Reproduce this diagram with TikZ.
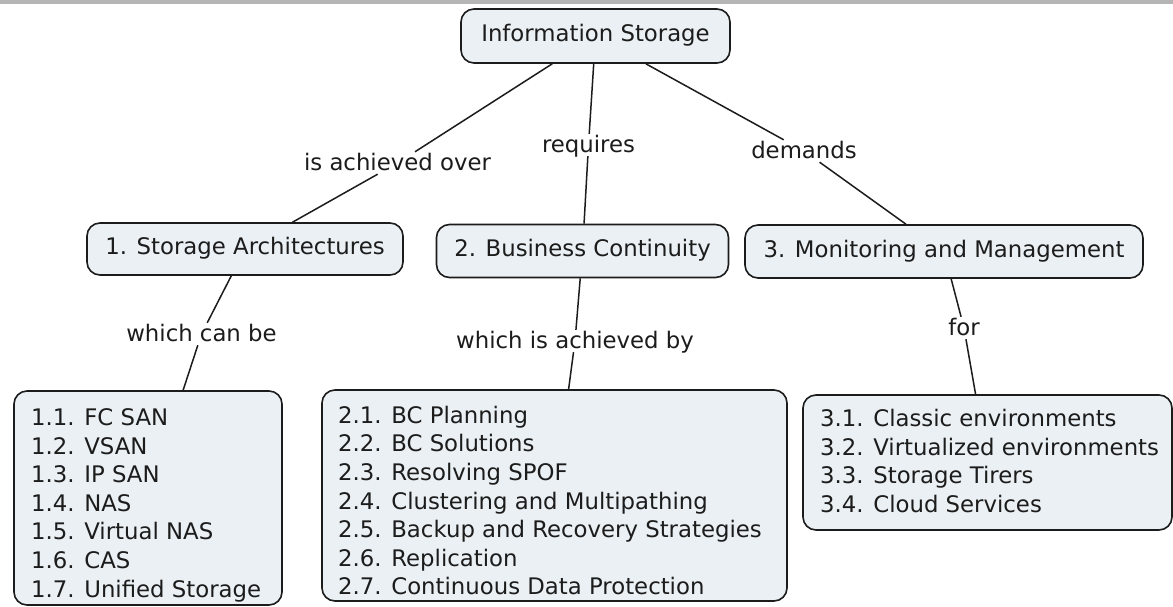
\documentclass[tikz,border=0pt]{standalone}
\usepackage{fontspec}
\setmainfont{DejaVu Sans}
\definecolor{boxfill}{HTML}{EAF0F3}
\definecolor{inkc}{HTML}{1C1C1C}
\definecolor{bandc}{HTML}{B5B5B5}
\begin{document}
\begin{tikzpicture}[x=1pt,y=-1pt,
  every node/.style={font=\fontsize{22.8pt}{28.6pt}\selectfont, text=inkc},
  topbox/.style={draw=inkc, line width=1.6pt, rounded corners=13pt, fill=boxfill, inner sep=0pt, text height=17.3pt, text depth=5.4pt},
  listbox/.style={draw=inkc, line width=1.6pt, rounded corners=13pt, fill=boxfill, inner sep=0pt},
  listtext/.style={align=left, inner sep=0pt, anchor=north west},
  linklabel/.style={inner sep=1pt, text height=17pt, text depth=3pt},
  link/.style={draw=inkc, line width=1.5pt}]

\useasboundingbox (0,0) rectangle (1173,606);
\fill[white] (0,0) rectangle (1173,606);
\fill[bandc] (0,0) rectangle (1173,3.5);

% concept boxes
\node[topbox, minimum width=269pt, minimum height=54pt] (is) at (595.5,36) {Information Storage};
\node[topbox, minimum width=316pt, minimum height=52pt] (b1) at (245,249) {1. Storage Architectures};
\node[topbox, minimum width=292pt, minimum height=53pt] (b2) at (582.5,251) {2. Business Continuity};
\node[topbox, minimum width=398pt, minimum height=53pt] (b3) at (944,251.5) {3. Monitoring and Management};

% linking phrases
\node[linklabel] (l1) at (397.5,163) {is achieved over};
\node[linklabel] (l2) at (588.5,145) {requires};
\node[linklabel] (l3) at (804,151) {demands};
\node[linklabel] (l4) at (201.5,334) {which can be};
\node[linklabel] (l5) at (575,341) {which is achieved by};
\node[linklabel] (l6) at (964,328) {for};

% list boxes
\node[listbox, minimum width=268pt, minimum height=214pt] (c1) at (148,498) {};
\node[listbox, minimum width=465pt, minimum height=211pt] (c2) at (554.5,495.5) {};
\node[listbox, minimum width=369pt, minimum height=135pt] (c3) at (987.5,462.5) {};

\node[listtext] (c1t) at (31,408.4) {1.1. FC SAN\\1.2. VSAN\\1.3. IP SAN\\1.4. NAS\\1.5. Virtual NAS\\1.6. CAS\\1.7. Unified Storage};
\node[listtext] (c2t) at (338,405.7) {2.1. BC Planning\\2.2. BC Solutions\\2.3. Resolving SPOF\\2.4. Clustering and Multipathing\\2.5. Backup and Recovery Strategies\\2.6. Replication\\2.7. Continuous Data Protection};
\node[listtext] (c3t) at (820,409.2) {3.1. Classic environments\\3.2. Virtualized environments\\3.3. Storage Tirers\\3.4. Cloud Services};

% connectors
\draw[link] (is) -- (l1);
\draw[link] (l1) -- (b1);
\draw[link] (is) -- (l2);
\draw[link] (l2) -- (b2);
\draw[link] (is) -- (l3);
\draw[link] (l3) -- (b3);
\draw[link] (b1) -- (l4);
\draw[link] (l4) -- (c1);
\draw[link] (b2) -- (l5);
\draw[link] (l5) -- (c2);
\draw[link] (b3) -- (l6);
\draw[link] (l6) -- (c3);
\end{tikzpicture}
\end{document}
